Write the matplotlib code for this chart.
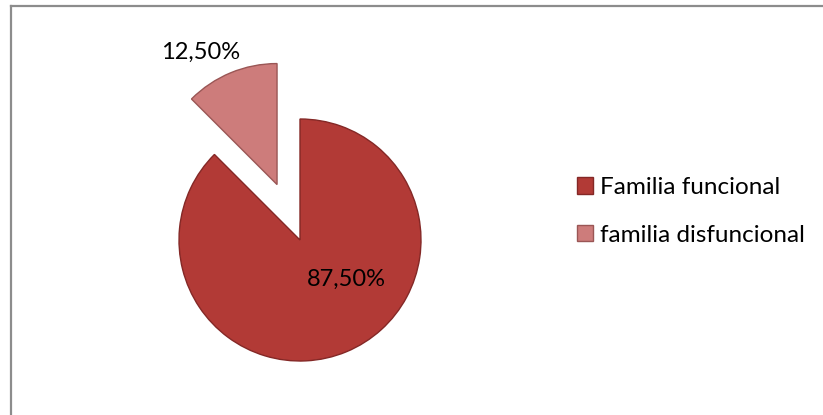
import matplotlib
matplotlib.use("Agg")
import matplotlib.pyplot as plt
from matplotlib.lines import Line2D

categories = ["Familia funcional", "familia disfuncional"]
values = [87.5, 12.5]
value_labels = ["87,50%", "12,50%"]
colors = ["#B23A36", "#CD7C7B"]
edge_colors = ["#842826", "#9A5655"]

W, H = 823, 415
fig = plt.figure(figsize=(W / 100, H / 100), dpi=100)
ax = fig.add_axes([0, 0, 1, 1])

cx, cy, r = 300, H - 240, 121
wedges, _ = ax.pie(values, colors=colors, startangle=90, counterclock=False,
                   radius=r, center=(cx, cy), explode=[0, 60],
                   wedgeprops=dict(linewidth=1.0), frame=True)
for w, ec in zip(wedges, edge_colors):
    w.set_edgecolor(ec)
ax.set_xlim(0, W)
ax.set_ylim(0, H)
ax.set_aspect("auto")
ax.axis("off")

font = "Lato"
ax.text(346, H - 279, value_labels[0], ha="center", va="center", fontsize=17,
        family=font, color="black")
ax.text(201, H - 52, value_labels[1], ha="center", va="center", fontsize=17,
        family=font, color="black")

leg = fig.legend(wedges, categories, loc="center left",
                 bbox_to_anchor=(577 / W, 1 - 211.5 / H), frameon=False,
                 prop=dict(family=font, size=17.5), handlelength=0.65,
                 handleheight=0.65, handletextpad=0.3, labelspacing=1.1,
                 borderaxespad=0, borderpad=0)

# chart area border (top and left visible)
fig.add_artist(Line2D([10.5 / W, 1], [1 - 6.5 / H, 1 - 6.5 / H],
                      transform=fig.transFigure, color="#8C8C8C", lw=1.6))
fig.add_artist(Line2D([10.5 / W, 10.5 / W], [0, 1 - 6.5 / H],
                      transform=fig.transFigure, color="#8C8C8C", lw=1.6))

fig.savefig("out.png", dpi=100, facecolor="white")
